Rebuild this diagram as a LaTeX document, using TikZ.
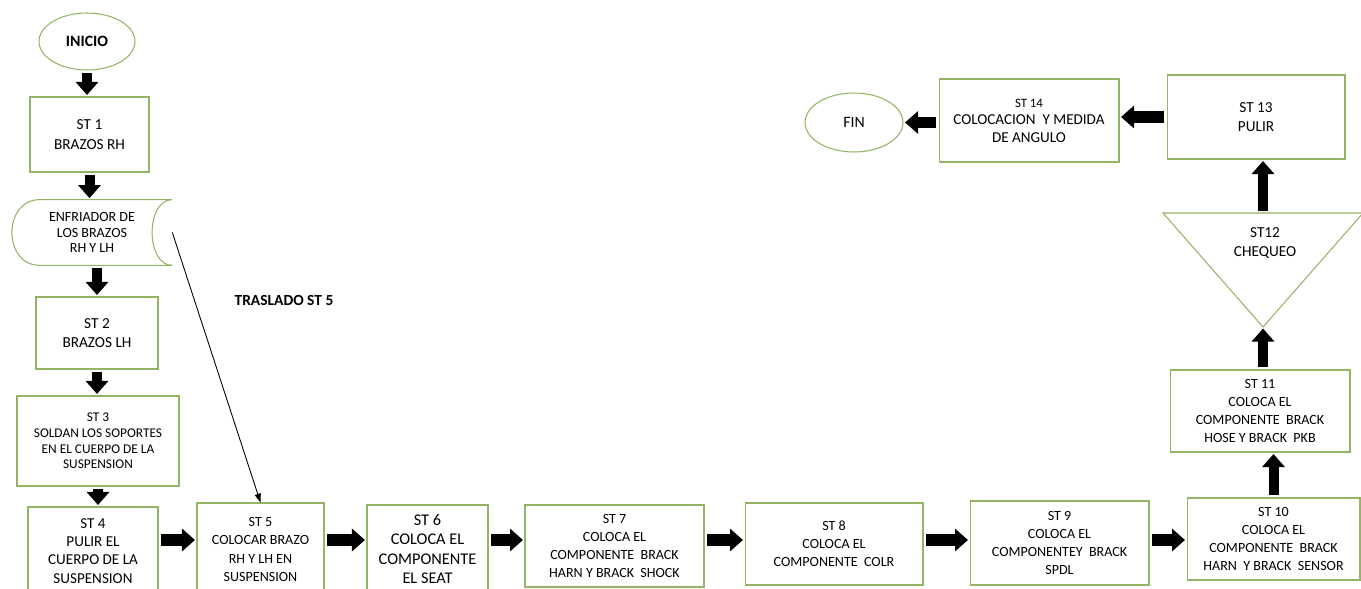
\documentclass[tikz,border=0pt]{standalone}
\usepackage{fontspec}
\setmainfont{Carlito}
\usetikzlibrary{arrows.meta,calc,shapes.geometric}
\definecolor{boxgreen}{RGB}{146,180,100}
\tikzset{
    boxline/.style={draw=boxgreen, line width=0.6pt},
    stbox/.style={boxline, rectangle, align=center, inner sep=0pt},
    endbox/.style={boxline, ellipse, align=center, inner sep=0pt},
    fbig/.style={font=\fontsize{8.7}{11}\selectfont},
    fmid/.style={font=\fontsize{8}{10.3}\selectfont},
    fsmall/.style={font=\fontsize{7.6}{8.9}\selectfont},
    blockarr/.style={line width=#1, -{Triangle[width=0.44cm,length=0.26cm]},
        shorten <=0.05cm, shorten >=0.03cm},
    blockarr/.default=0.2cm,
    thinarr/.style={line width=0.5pt, -{Triangle[length=5pt,width=3.5pt]}}
}
\begin{document}
\begin{tikzpicture}[x=0.02cm, y=-0.02cm]
    \path[use as bounding box, clip] (0,0) rectangle (1361,588);

    % left column
    \node[endbox, font=\fontsize{9}{10}\selectfont\bfseries,
        minimum width=1.92cm, minimum height=1.14cm] (inicio) at (87,41.5) {INICIO};
    \node[stbox, fbig, minimum width=2.38cm, minimum height=1.5cm] (st1) at (89.5,134.5)
        {ST 1\\BRAZOS RH};
    \node[font=\fontsize{8}{8.6}\selectfont, align=center, inner sep=0pt,
        minimum width=3.2cm, minimum height=1.3cm]
        (enf) at (92,232.5) {ENFRIADOR DE\\LOS BRAZOS\\RH Y LH};
    \draw[boxline] ($(enf.north west)+(28,0)$) -- (enf.north east)
        .. controls +(-27,0) and ($(enf.south east)+(-27,0)$) .. (enf.south east)
        -- ($(enf.south west)+(28,0)$)
        .. controls +(-37,0) and ($(enf.north west)+(-9,0)$) .. ($(enf.north west)+(28,0)$);
    \node[stbox, fbig, minimum width=2.44cm, minimum height=1.44cm] (st2) at (97,333)
        {ST 2\\BRAZOS LH};
    \node[stbox, fsmall, minimum width=3.24cm, minimum height=1.8cm] (st3) at (98,441)
        {ST 3\\SOLDAN LOS SOPORTES\\EN EL CUERPO DE LA\\SUSPENSION};

    % bottom row
    \node[stbox, font=\fontsize{8.6}{10.4}\selectfont,
        minimum width=2.6cm, minimum height=1.76cm] (st4) at (93,551)
        {ST 4\\PULIR EL\\CUERPO DE LA\\SUSPENSION};
    \node[stbox, fmid, minimum width=2.54cm, minimum height=1.86cm] (st5) at (260.5,549.5)
        {ST 5\\COLOCAR BRAZO\\RH Y LH EN\\SUSPENSION};
    \node[stbox, font=\fontsize{9.3}{10.9}\selectfont,
        minimum width=2.42cm, minimum height=1.76cm] (st6) at (427.5,549)
        {ST 6\\COLOCA EL\\COMPONENTE\\EL SEAT};
    \node[stbox, fmid, minimum width=3.58cm, minimum height=1.64cm] (st7) at (614.5,546)
        {ST 7\\COLOCA EL\\COMPONENTE~~BRACK\\HARN Y BRACK~~SHOCK};
    \node[stbox, fmid, minimum width=3.56cm, minimum height=1.64cm] (st8) at (834,544)
        {ST 8\\COLOCA EL\\COMPONENTE~~COLR};
    \node[stbox, fmid, minimum width=3.58cm, minimum height=1.68cm] (st9) at (1059.5,543)
        {ST 9\\COLOCA EL\\COMPONENTEY~~BRACK\\SPDL};
    \node[stbox, fmid, minimum width=3.46cm, minimum height=1.64cm] (st10) at (1273.5,539)
        {ST 10\\COLOCA EL\\COMPONENTE~~BRACK\\HARN~~Y BRACK~~SENSOR};

    % right column and top row
    \node[stbox, fmid, minimum width=3.6cm, minimum height=1.64cm] (st11) at (1260,411)
        {ST 11\\COLOCA EL\\COMPONENTE~~BRACK\\HOSE Y BRACK~~PKB};
    \coordinate (st12top) at (1263,213);
    \coordinate (st12apex) at (1263,327);
    \draw[boxline] (1163,213) -- (1363,213) -- (st12apex) -- cycle;
    \node[fbig, align=center] (st12) at (1265,243) {ST12\\CHEQUEO};
    \node[stbox, fbig, minimum width=3.56cm, minimum height=1.68cm] (st13) at (1256,117)
        {ST 13\\PULIR};
    \node[stbox, font=\fontsize{8.6}{10}\selectfont,
        minimum width=3.6cm, minimum height=1.66cm] (st14) at (1029,120.5)
        {{\fontsize{7.3}{9}\selectfont ST 14}\\COLOCACION~~Y MEDIDA\\DE ANGULO};
    \node[endbox, font=\fontsize{9}{10}\selectfont,
        minimum width=1.96cm, minimum height=1.18cm] (fin) at (854,122.5) {FIN};

    \node[font=\fontsize{8.8}{10}\selectfont\bfseries] (traslado) at (284,300) {TRASLADO ST 5};

    % connectors
    \draw[blockarr] (inicio.south) -- (inicio.south |- st1.north);
    \draw[blockarr] (st1.south) -- (st1.south |- enf.north);
    \draw[blockarr] (st2.north |- enf.south) -- (st2.north);
    \draw[blockarr] (st2.south) -- (st2.south |- st3.north);
    \draw[blockarr] (st3.south) -- (st3.south |- st4.north);
    \draw[thinarr] (enf.east) -- (st5.north);

    \coordinate (row) at (0,540);
    \draw[blockarr=0.24cm] (st4.east |- row) -- (st5.west |- row);
    \draw[blockarr=0.24cm] (st5.east |- row) -- (st6.west |- row);
    \draw[blockarr=0.24cm] (st6.east |- row) -- (st7.west |- row);
    \draw[blockarr=0.24cm] (st7.east |- row) -- (st8.west |- row);
    \draw[blockarr=0.24cm] (st8.east |- row) -- (st9.west |- row);
    \draw[blockarr=0.24cm] (st9.east |- row) -- (st10.west |- row);

    \draw[blockarr] (st10.north) -- (st10.north |- st11.south);
    \draw[blockarr] (st12apex |- st11.north) -- (st12apex);
    \draw[blockarr] (st12top) -- (st12top |- st13.south);
    \draw[blockarr=0.24cm] (st13.west) -- (st13.west -| st14.east);
    \draw[blockarr=0.24cm] (st14.west |- fin) -- (fin);
\end{tikzpicture}
\end{document}
